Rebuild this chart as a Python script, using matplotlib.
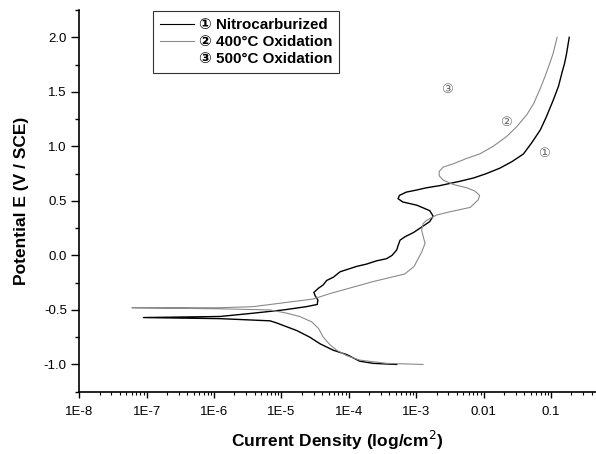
import matplotlib
matplotlib.use('Agg')
import matplotlib.pyplot as plt
from matplotlib.lines import Line2D
from matplotlib.ticker import FixedLocator, LogLocator, NullFormatter, MultipleLocator
import numpy as np

plt.rcParams['axes.unicode_minus'] = False
plt.rcParams['font.family'] = ['Liberation Sans', 'DejaVu Sans', 'Noto Sans CJK SC']

# log10 of current density and potential (V)
# 1: Nitrocarburized (cathodic end -> corrosion -> anodic end)
nitro_logi = [-3.29, -3.64, -3.84, -4.03, -4.23, -4.43, -4.58, -4.77, -5.07, -5.17, -5.91, -7.05,
              -5.91, -5.42, -4.97, -4.63, -4.47, -4.46, -4.50, -4.52, -4.45, -4.38, -4.33,
              -4.23, -4.13, -4.03, -3.88, -3.74, -3.59, -3.44, -3.36, -3.29, -3.27, -3.24,
              -3.17, -3.04, -2.92, -2.80, -2.75, -2.80, -2.99, -3.20, -3.27, -3.25, -3.15,
              -2.99, -2.85, -2.65, -2.35, -2.15, -1.96, -1.76, -1.58, -1.41, -1.29, -1.16,
              -1.07, -0.97, -0.89, -0.84, -0.80, -0.77, -0.73]
nitro_e = [-1.00, -0.99, -0.97, -0.91, -0.87, -0.81, -0.75, -0.69, -0.62, -0.60, -0.58, -0.57,
           -0.56, -0.53, -0.50, -0.47, -0.45, -0.41, -0.37, -0.34, -0.30, -0.27, -0.23,
           -0.20, -0.15, -0.13, -0.10, -0.08, -0.05, -0.03, 0.00, 0.05, 0.09, 0.14,
           0.17, 0.21, 0.26, 0.31, 0.36, 0.41, 0.46, 0.49, 0.52, 0.55, 0.58,
           0.60, 0.62, 0.64, 0.68, 0.71, 0.75, 0.80, 0.86, 0.93, 1.03, 1.15,
           1.27, 1.42, 1.55, 1.67, 1.76, 1.85, 2.00]

# 2: 400C oxidation
ox400_logi = [-2.90, -3.44, -3.84, -4.03, -4.18, -4.28, -4.38, -4.45, -4.55, -4.73, -4.92,
              -5.17, -5.91, -7.22,
              -5.91, -5.42, -4.53, -4.28, -3.64, -3.17, -3.03, -2.99, -2.92, -2.87, -2.90,
              -2.92, -2.90, -2.85, -2.70, -2.50, -2.20, -2.08, -2.06, -2.13, -2.25, -2.45,
              -2.60, -2.66, -2.66, -2.60, -2.45, -2.25, -2.06, -1.86, -1.66, -1.51, -1.36,
              -1.26, -1.16, -1.09, -1.02, -0.97, -0.91]
ox400_e = [-1.00, -0.99, -0.96, -0.92, -0.87, -0.82, -0.75, -0.67, -0.61, -0.56, -0.53,
           -0.50, -0.49, -0.48,
           -0.48, -0.47, -0.40, -0.35, -0.24, -0.17, -0.10, -0.05, 0.03, 0.11, 0.18,
           0.23, 0.29, 0.32, 0.37, 0.40, 0.44, 0.51, 0.55, 0.59, 0.62, 0.65,
           0.69, 0.73, 0.77, 0.81, 0.84, 0.89, 0.93, 1.00, 1.09, 1.18, 1.29,
           1.39, 1.53, 1.64, 1.76, 1.85, 2.00]

labels = ['\u2460 Nitrocarburized', '\u2461 400\u00b0C Oxidation', '\u2462 500\u00b0C Oxidation']
marks = ['\u2460', '\u2461', '\u2462']
mark_logi = [-1.10, -1.67, -2.54]
mark_e = [0.93, 1.22, 1.52]

xtick_vals = [1e-8, 1e-7, 1e-6, 1e-5, 1e-4, 1e-3, 1e-2, 1e-1]
xtick_labels = ['1E-8', '1E-7', '1E-6', '1E-5', '1E-4', '1E-3', '0.01', '0.1']

fig = plt.figure(figsize=(5.96, 4.54), dpi=100)
ax = fig.add_axes([0.1331, 0.1372, 0.8669, 0.8407])

ax.plot(10 ** np.array(nitro_logi), nitro_e, color='black', lw=1.0)
ax.plot(10 ** np.array(ox400_logi), ox400_e, color='#8a8a8a', lw=0.8)

for m, lx, e in zip(marks, mark_logi, mark_e):
    ax.text(10 ** lx, e, m, color='#666666', fontsize=9.5, ha='center', va='center',
            family=['DejaVu Serif', 'DejaVu Sans', 'Noto Sans CJK SC'])

ax.set_xscale('log')
ax.set_xlim(1e-8, 10 ** -0.333)
ax.set_ylim(-1.25, 2.25)

ax.xaxis.set_major_locator(FixedLocator(xtick_vals))
ax.set_xticklabels(xtick_labels)
ax.xaxis.set_minor_locator(LogLocator(base=10, subs=np.arange(2, 10)))
ax.xaxis.set_minor_formatter(NullFormatter())
ax.yaxis.set_major_locator(MultipleLocator(0.5))
ax.yaxis.set_minor_locator(MultipleLocator(0.25))
ax.yaxis.set_major_formatter(plt.FormatStrFormatter('%.1f'))

for s in ['top', 'right']:
    ax.spines[s].set_visible(False)
for s in ['left', 'bottom']:
    ax.spines[s].set_linewidth(1.2)

ax.tick_params(axis='y', which='major', length=6, width=1.0, labelsize=9.5, pad=3)
ax.tick_params(axis='y', which='minor', length=3, width=1.0)
ax.tick_params(axis='x', which='major', length=4, width=1.0, labelsize=9.5, pad=6)
ax.tick_params(axis='x', which='minor', length=2.5, width=0.8)

ax.set_xlabel('Current Density (log/cm$^2$)', fontsize=12.5, fontweight='bold', labelpad=8)
ax.set_ylabel('Potential E (V / SCE)', fontsize=12.5, fontweight='bold', labelpad=11)

handles = [Line2D([], [], color='black', lw=0.8),
           Line2D([], [], color='#8a8a8a', lw=0.8),
           Line2D([], [], color='none', lw=0.8)]
leg = ax.legend(handles, labels, loc='upper left',
                bbox_to_anchor=(152.7 / 596, 1 - 11 / 454), bbox_transform=fig.transFigure,
                borderaxespad=0, frameon=True, fancybox=False, shadow=False,
                prop={'size': 10.9, 'weight': 'bold'}, handlelength=2.3, handletextpad=0.3,
                labelspacing=0.2, borderpad=0.45)
leg.get_frame().set_edgecolor('black')
leg.get_frame().set_linewidth(0.8)

fig.savefig('out.png', dpi=100)
